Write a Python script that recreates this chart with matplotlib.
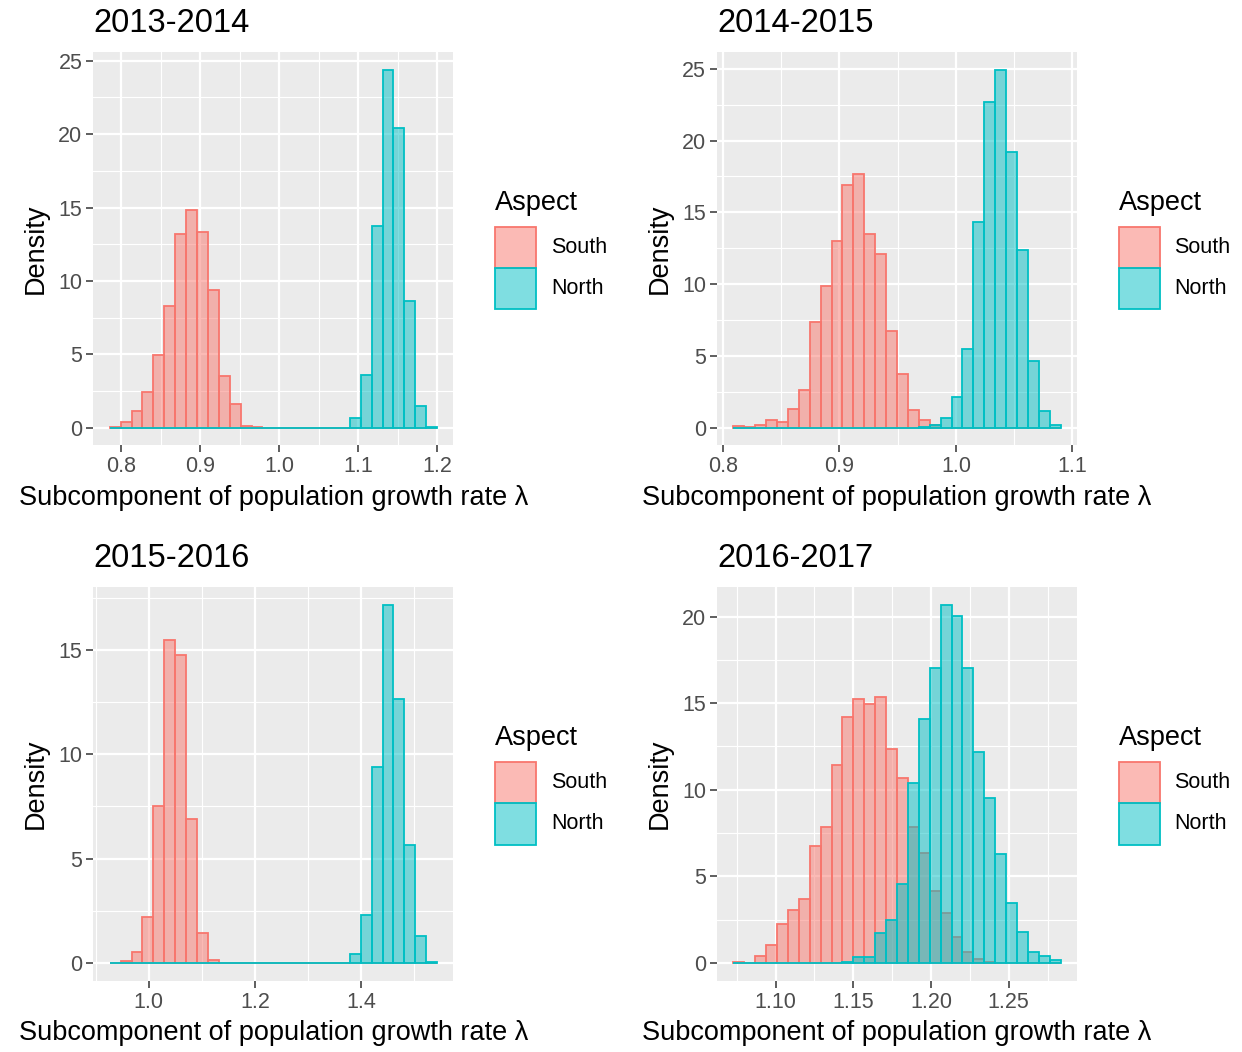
import numpy as np
import matplotlib
matplotlib.use('Agg')
import matplotlib.pyplot as plt
from matplotlib.colors import to_rgba
from matplotlib.patches import Rectangle
from matplotlib.ticker import AutoMinorLocator

plt.rcParams['font.family'] = ['Liberation Sans', 'DejaVu Sans']

SOUTH = '#F8766D'
NORTH = '#00BFC4'
BG = '#EBEBEB'

titles = ['2013-2014', '2014-2015', '2015-2016', '2016-2017']
groups = ['South', 'North']

# 30-bin histograms (densities), range = (left edge of first bin, right edge of last bin)
range_1314 = (0.7853, 1.2000)
south_1314 = [0.02, 0.36, 1.1, 2.4, 4.95, 8.3, 13.2, 14.8, 13.3, 9.4,
              3.5, 1.6, 0.14, 0.05, 0, 0, 0, 0, 0, 0,
              0, 0, 0, 0, 0, 0, 0, 0, 0, 0]
north_1314 = [0, 0, 0, 0, 0, 0, 0, 0, 0, 0,
              0, 0, 0, 0, 0, 0, 0, 0, 0, 0,
              0, 0, 0.68, 3.6, 13.75, 24.4, 20.45, 8.6, 1.5, 0.05]

range_1415 = (0.8090, 1.0899)
south_1415 = [0.12, 0.05, 0.2, 0.5, 0.4, 1.3, 2.65, 7.35, 9.9, 13.0,
              16.9, 17.7, 13.5, 12.1, 6.75, 3.75, 1.2, 0.55, 0.15, 0,
              0, 0, 0, 0, 0, 0, 0, 0, 0, 0]
north_1415 = [0, 0, 0, 0, 0, 0, 0, 0, 0, 0,
              0, 0, 0, 0, 0, 0, 0, 0.04, 0.15, 0.7,
              2.1, 5.45, 14.3, 22.7, 24.95, 19.2, 12.4, 4.65, 1.15, 0.2]

range_1516 = (0.9263, 1.5436)
south_1516 = [0.02, 0.08, 0.53, 2.19, 7.5, 15.45, 14.76, 6.9, 1.44, 0.16,
              0, 0, 0, 0, 0, 0, 0, 0, 0, 0,
              0, 0, 0, 0, 0, 0, 0, 0, 0, 0]
north_1516 = [0, 0, 0, 0, 0, 0, 0, 0, 0, 0,
              0, 0, 0, 0, 0, 0, 0, 0, 0, 0,
              0, 0, 0.43, 2.3, 9.4, 17.15, 12.64, 5.66, 1.3, 0.03]

range_1617 = (1.0728, 1.2834)
south_1617 = [0.08, 0, 0.42, 1.06, 2.25, 3.08, 3.71, 6.73, 7.88, 11.44,
              14.23, 15.23, 14.96, 15.33, 12.35, 10.71, 7.85, 6.38, 4.17, 2.88,
              1.5, 0.62, 0.23, 0.05, 0, 0, 0, 0, 0, 0]
north_1617 = [0, 0, 0, 0, 0, 0, 0, 0, 0, 0,
              0.05, 0.33, 0.38, 1.73, 2.5, 4.56, 10.38, 14.08, 17.02, 20.67,
              20.04, 17.02, 12.21, 9.52, 6.29, 3.46, 1.79, 0.63, 0.42, 0.15]

xticks_list = [[0.8, 0.9, 1.0, 1.1, 1.2],
               [0.8, 0.9, 1.0, 1.1],
               [1.0, 1.2, 1.4],
               [1.10, 1.15, 1.20, 1.25]]
xfmt_list = ['{:.1f}', '{:.1f}', '{:.1f}', '{:.2f}']
yticks_list = [[0, 5, 10, 15, 20, 25],
               [0, 5, 10, 15, 20, 25],
               [0, 5, 10, 15],
               [0, 5, 10, 15, 20]]

ranges = [range_1314, range_1415, range_1516, range_1617]
souths = [south_1314, south_1415, south_1516, south_1617]
norths = [north_1314, north_1415, north_1516, north_1617]

W, H = 1242, 1052
panel_px = [(93.3, 51.7, 453.5, 445.5),
            (717.0, 51.7, 1077.0, 445.5),
            (93.3, 587.0, 453.5, 981.0),
            (717.0, 587.0, 1077.0, 981.0)]

fig = plt.figure(figsize=(W / 100, H / 100), dpi=100)
fig.patch.set_facecolor('white')

XLAB = 'Subcomponent of population growth rate \u03bb'


def fig_xy(px, py):
    """pixel position (from top-left) -> figure fraction"""
    return px / W, 1 - py / H


for i in range(4):
    x0, y0, x1, y1 = panel_px[i]
    ax = fig.add_axes([x0 / W, 1 - y1 / H, (x1 - x0) / W, (y1 - y0) / H])
    ax.set_facecolor(BG)

    lo, hi = ranges[i]
    edges = np.linspace(lo, hi, len(souths[i]) + 1)
    bw = edges[1] - edges[0]
    for vals, col in ((souths[i], SOUTH), (norths[i], NORTH)):
        ax.bar(edges[:-1], vals, width=bw, align='edge',
               facecolor=to_rgba(col, 0.5), edgecolor=col, linewidth=1.3,
               zorder=3)

    # ggplot-style 5% expansion
    span = hi - lo
    ax.set_xlim(lo - 0.05 * span, hi + 0.05 * span)
    ymax = max(max(souths[i]), max(norths[i]))
    ax.set_ylim(-0.05 * ymax, 1.05 * ymax)

    ax.set_xticks(xticks_list[i])
    ax.set_xticklabels([xfmt_list[i].format(t) for t in xticks_list[i]])
    ax.set_yticks(yticks_list[i])
    ax.xaxis.set_minor_locator(AutoMinorLocator(2))
    ax.yaxis.set_minor_locator(AutoMinorLocator(2))

    ax.grid(which='major', color='white', linewidth=1.6, zorder=0)
    ax.grid(which='minor', color='white', linewidth=0.8, zorder=0)
    ax.set_axisbelow(True)
    for s in ax.spines.values():
        s.set_visible(False)
    ax.tick_params(which='major', length=4.8, width=1.1, color='#333333',
                   labelsize=15.5, labelcolor='#4D4D4D', pad=3)
    ax.tick_params(which='minor', length=0)

    ax.set_title(titles[i], loc='left', fontsize=23.5, color='black', pad=14.5)
    ax.set_xlabel(XLAB, fontsize=19.5, labelpad=5.5)
    ax.set_ylabel('Density', fontsize=19.5, labelpad=7)

    # legend: title plus two square keys stacked without gaps
    lx, ly = x0 + 401.7, y0 + 175.0
    key = 41.3
    tx, ty = fig_xy(lx, y0 + 158.3)
    fig.text(tx, ty, 'Aspect', fontsize=19.5, ha='left', va='baseline')
    for k, (name, col) in enumerate(zip(groups, (SOUTH, NORTH))):
        kx, ky = fig_xy(lx, ly + (k + 1) * key)
        fig.add_artist(Rectangle((kx, ky), key / W, key / H,
                                 transform=fig.transFigure,
                                 facecolor=to_rgba(col, 0.5), edgecolor=col,
                                 linewidth=1.3))
        nx, ny = fig_xy(lx + key + 14.5, ly + (k + 0.5) * key)
        fig.text(nx, ny, name, fontsize=15.5, ha='left', va='center')

fig.savefig('out.png', dpi=100)
